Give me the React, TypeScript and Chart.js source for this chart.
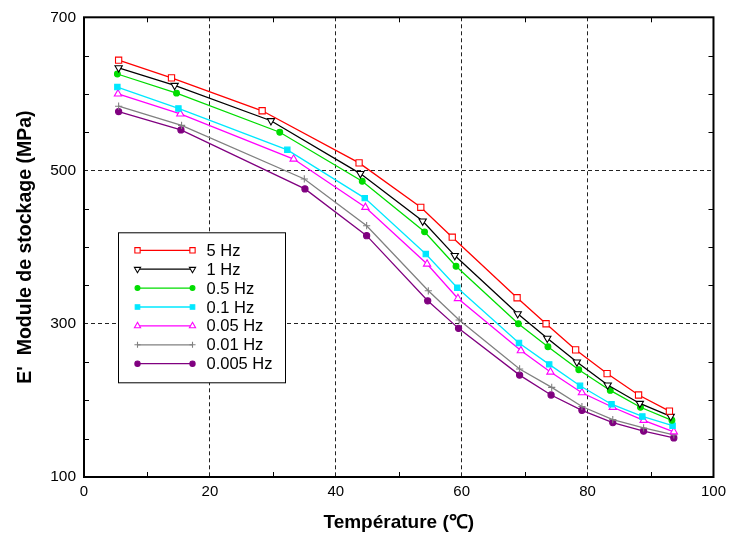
import React, { useEffect, useRef } from 'react';
import { Chart, registerables } from 'chart.js';
import { drawPoint } from 'chart.js/helpers';

Chart.register(...registerables);

const seriesLabels = ['5 Hz', '1 Hz', '0.5 Hz', '0.1 Hz', '0.05 Hz', '0.01 Hz', '0.005 Hz'];

const temp5Hz = [5.5, 13.9, 28.3, 43.7, 53.5, 58.5, 68.8, 73.4, 78.1, 83.1, 88.1, 93.0];
const mod5Hz = [644, 621, 578, 510, 452, 413, 334, 300, 266, 235, 207, 186];

const temp1Hz = [5.5, 14.4, 29.7, 43.9, 53.8, 58.9, 68.9, 73.6, 78.3, 83.2, 88.3, 93.2];
const mod1Hz = [634, 611, 565, 496, 434, 389, 313, 281, 250, 220, 196, 179];

const temp05Hz = [5.3, 14.7, 31.1, 44.2, 54.1, 59.1, 69.0, 73.7, 78.6, 83.6, 88.4, 93.4];
const mod05Hz = [626, 601, 550, 486, 420, 375, 300, 270, 240, 213, 191, 174];

const temp01Hz = [5.3, 15.0, 32.3, 44.6, 54.3, 59.3, 69.1, 73.9, 78.8, 83.8, 88.7, 93.5];
const mod01Hz = [609, 581, 527, 464, 391, 347, 275, 247, 219, 195, 179, 167];

const temp005Hz = [5.4, 15.3, 33.3, 44.7, 54.5, 59.4, 69.4, 74.1, 79.1, 84.0, 88.9, 93.7];
const mod005Hz = [600, 574, 515, 452, 378, 333, 265, 237, 210, 191, 174, 159];

const temp001Hz = [5.5, 15.5, 35.0, 44.9, 54.7, 59.6, 69.2, 74.3, 79.1, 84.0, 88.9, 93.7];
const mod001Hz = [584, 559, 489, 428, 343, 305, 241, 217, 192, 175, 164, 155];

const temp0005Hz = [5.5, 15.4, 35.1, 44.9, 54.6, 59.5, 69.2, 74.2, 79.1, 84.0, 88.9, 93.7];
const mod0005Hz = [577, 553, 476, 415, 330, 294, 233, 207, 187, 171, 160, 151];

const xMinorTicks = [10, 30, 50, 70, 90];
const yMinorTicks = [150, 200, 250, 350, 400, 450, 550, 600, 650];

const FONT = "'Liberation Sans', Arial, Helvetica, sans-serif";

const toPoints = (xs: number[], ys: number[]) => xs.map((x, i) => ({ x, y: ys[i] }));

const styles = [
  { color: '#ff0000', bg: '#ffffff', pointStyle: 'rect', radius: 4.4, rotation: 0 },
  { color: '#000000', bg: '#ffffff', pointStyle: 'triangle', radius: 4.2, rotation: 180 },
  { color: '#00dd00', bg: '#00dd00', pointStyle: 'circle', radius: 2.9, rotation: 0 },
  { color: '#00e8ff', bg: '#00e8ff', pointStyle: 'rect', radius: 3.8, rotation: 0 },
  { color: '#ff00ff', bg: '#ffffff', pointStyle: 'triangle', radius: 4.2, rotation: 0 },
  { color: '#808080', bg: '#808080', pointStyle: 'cross', radius: 3.6, rotation: 0 },
  { color: '#800080', bg: '#800080', pointStyle: 'circle', radius: 3.1, rotation: 0 },
];

const seriesData = [
  toPoints(temp5Hz, mod5Hz),
  toPoints(temp1Hz, mod1Hz),
  toPoints(temp05Hz, mod05Hz),
  toPoints(temp01Hz, mod01Hz),
  toPoints(temp005Hz, mod005Hz),
  toPoints(temp001Hz, mod001Hz),
  toPoints(temp0005Hz, mod0005Hz),
];

const framePlugin = {
  id: 'frameTicks',
  beforeDatasetsDraw(chart: any) {
    const { ctx, chartArea } = chart;
    const { left, right, top, bottom } = chartArea;
    const xs = chart.scales.x;
    const ys = chart.scales.y;
    ctx.save();
    ctx.strokeStyle = '#000';
    ctx.lineWidth = 1;
    ctx.beginPath();
    for (const v of xMinorTicks) {
      const px = Math.round(xs.getPixelForValue(v)) + 0.5;
      ctx.moveTo(px, bottom);
      ctx.lineTo(px, bottom - 5);
      ctx.moveTo(px, top);
      ctx.lineTo(px, top + 5);
    }
    for (const v of yMinorTicks) {
      const py = Math.round(ys.getPixelForValue(v)) + 0.5;
      ctx.moveTo(left, py);
      ctx.lineTo(left + 5, py);
      ctx.moveTo(right, py);
      ctx.lineTo(right - 5, py);
    }
    ctx.stroke();
    ctx.lineWidth = 2;
    ctx.strokeRect(left, top, right - left, bottom - top);
    ctx.restore();
  },
};

const legendPlugin = {
  id: 'insideLegend',
  afterDatasetsDraw(chart: any) {
    const { ctx, chartArea } = chart;
    const bx = chartArea.left + 34.5;
    const by = chartArea.top + 215.5;
    const bw = 167;
    const bh = 150;
    ctx.save();
    ctx.fillStyle = '#ffffff';
    ctx.fillRect(bx, by, bw, bh);
    ctx.strokeStyle = '#000';
    ctx.lineWidth = 1;
    ctx.strokeRect(bx, by, bw, bh);
    chart.data.datasets.forEach((ds: any, i: number) => {
      const yy = by + 17.5 + i * 18.9;
      const x1 = bx + 19;
      const x2 = bx + 74;
      ctx.strokeStyle = ds.borderColor;
      ctx.lineWidth = 1.3;
      ctx.beginPath();
      ctx.moveTo(x1, yy);
      ctx.lineTo(x2, yy);
      ctx.stroke();
      const opts = {
        pointStyle: ds.pointStyle,
        rotation: ds.pointRotation,
        radius: ds.pointRadius * 0.85,
        borderWidth: 1.1,
      };
      for (const px of [x1, x2]) {
        ctx.fillStyle = ds.pointBackgroundColor;
        ctx.strokeStyle = ds.pointBorderColor;
        ctx.lineWidth = 1.1;
        drawPoint(ctx, opts as any, px, yy);
      }
      ctx.fillStyle = '#000';
      ctx.font = `16.5px ${FONT}`;
      ctx.textAlign = 'left';
      ctx.textBaseline = 'middle';
      ctx.fillText(ds.label, bx + 88, yy + 1);
    });
    ctx.restore();
  },
};

export default function App() {
  const canvasRef = useRef<HTMLCanvasElement | null>(null);

  useEffect(() => {
    if (!canvasRef.current) return;
    const chart = new Chart(canvasRef.current, {
      type: 'line',
      data: {
        datasets: seriesLabels.map((label, i) => ({
          label,
          data: seriesData[i],
          borderColor: styles[i].color,
          backgroundColor: styles[i].color,
          borderWidth: 1.3,
          pointStyle: styles[i].pointStyle as any,
          pointRotation: styles[i].rotation,
          pointRadius: styles[i].radius,
          pointBackgroundColor: styles[i].bg,
          pointBorderColor: styles[i].color,
          pointBorderWidth: 1.1,
          tension: 0,
          fill: false,
        })),
      },
      options: {
        animation: false,
        responsive: false,
        devicePixelRatio: 1,
        layout: { padding: { top: 15, right: 16, left: 0, bottom: 0 } },
        plugins: {
          legend: { display: false },
          tooltip: { enabled: false },
        },
        scales: {
          x: {
            type: 'linear',
            min: 0,
            max: 100,
            ticks: {
              stepSize: 20,
              padding: 6,
              color: '#000',
              font: { family: FONT, size: 15 },
            },
            grid: {
              drawTicks: false,
              lineWidth: 1,
              color: (c: any) =>
                c.tick && (c.tick.value === 0 || c.tick.value === 100) ? 'rgba(0,0,0,0)' : '#222',
            },
            border: { display: false, dash: [4, 3] },
            title: {
              display: true,
              text: 'Température (℃)',
              color: '#000',
              font: { family: FONT, size: 19, weight: 'bold' },
              padding: { top: 0, bottom: 8 },
            },
            afterFit: (s: any) => {
              s.height = 65;
            },
          },
          y: {
            type: 'linear',
            min: 100,
            max: 700,
            ticks: {
              stepSize: 200,
              padding: 8,
              color: '#000',
              font: { family: FONT, size: 15.5 },
            },
            grid: {
              drawTicks: false,
              lineWidth: 1,
              color: (c: any) =>
                c.tick && (c.tick.value === 100 || c.tick.value === 700) ? 'rgba(0,0,0,0)' : '#222',
            },
            border: { display: false, dash: [4, 3] },
            title: {
              display: true,
              text: "E'  Module de stockage (MPa)",
              color: '#000',
              font: { family: FONT, size: 19.5, weight: 'bold' },
              padding: { top: 14, bottom: 0 },
            },
            afterFit: (s: any) => {
              s.width = 84;
            },
          },
        },
      } as any,
      plugins: [framePlugin, legendPlugin],
    });
    return () => chart.destroy();
  }, []);

  return (
    <div style={{ position: 'absolute', left: 0, top: 0, width: 732, height: 542, background: '#fff' }}>
      <canvas ref={canvasRef} width={732} height={542} style={{ display: 'block' }} />
    </div>
  );
}
